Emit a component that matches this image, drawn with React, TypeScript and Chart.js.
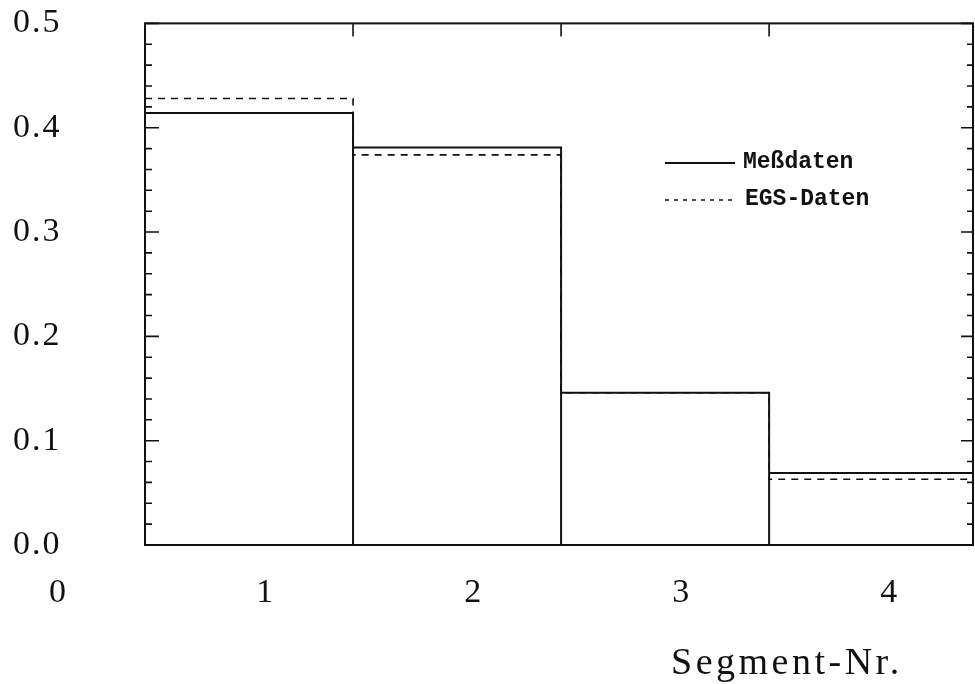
import React, { useEffect, useRef } from 'react';
import { Chart, registerables } from 'chart.js';

Chart.register(...registerables);

// ---- data ----
const segments = [1, 2, 3, 4];
const binEdges = [0.42, 1.42, 2.42, 3.42, 4.42];
const messdaten = [0.414, 0.381, 0.146, 0.069];
const egsDaten = [0.428, 0.374, 0.146, 0.063];
const xTickLabels = ['0', '1', '2', '3', '4'];
const yTickValues = [0, 0.1, 0.2, 0.3, 0.4, 0.5];
const legendLabels = ['Meßdaten', 'EGS-Daten'];
const xTitle = 'Segment-Nr.';

const X_MIN = 0.42;
const X_MAX = 4.4;
const Y_MIN = 0;
const Y_MAX = 0.5;

const INK = '#111111';
const SERIF = '"Liberation Serif", "Times New Roman", serif';
const MONO = '"Liberation Mono", "Courier New", monospace';
const TICK_SIZE = 34;

function boxOutline(values: number[]) {
  const pts: { x: number; y: number }[] = [];
  values.forEach((v, i) => {
    pts.push({ x: binEdges[i], y: v });
    pts.push({ x: binEdges[i + 1], y: v });
    if (i < values.length - 1) pts.push({ x: binEdges[i + 1], y: 0 });
  });
  return pts;
}

function stepOutline(values: number[]) {
  const pts: { x: number; y: number }[] = [];
  values.forEach((v, i) => {
    pts.push({ x: binEdges[i], y: v });
    pts.push({ x: binEdges[i + 1], y: v });
  });
  return pts;
}

const framePlugin = {
  id: 'frameAndText',
  beforeDraw(chart: any) {
    chart.ctx.letterSpacing = '2px';
  },
  afterDraw(chart: any) {
    const { ctx, chartArea: a, scales } = chart;
    const x = scales.x;
    const y = scales.y;
    ctx.save();
    ctx.letterSpacing = '0px';
    ctx.strokeStyle = INK;
    ctx.lineWidth = 2;
    ctx.strokeRect(a.left, a.top, a.right - a.left, a.bottom - a.top);

    // inward ticks on left and right
    ctx.lineWidth = 1.6;
    ctx.beginPath();
    for (let k = 0; k <= 25; k++) {
      const v = k / 50;
      const py = y.getPixelForValue(v);
      const major = k % 5 === 0;
      const lenL = major ? 14 : 7;
      const lenR = major ? 12 : 6;
      ctx.moveTo(a.left, py);
      ctx.lineTo(a.left + lenL, py);
      ctx.moveTo(a.right, py);
      ctx.lineTo(a.right - lenR, py);
    }
    // top ticks at bin edges
    for (let i = 1; i < binEdges.length - 1; i++) {
      const px = x.getPixelForValue(binEdges[i]);
      ctx.moveTo(px, a.top);
      ctx.lineTo(px, a.top + 13);
    }
    ctx.stroke();

    // "0" label of the x axis (outside the frame)
    ctx.fillStyle = INK;
    ctx.font = `${TICK_SIZE}px ${SERIF}`;
    ctx.textAlign = 'center';
    ctx.textBaseline = 'middle';
    ctx.fillText(xTickLabels[0], x.getPixelForValue(0), a.bottom + 48);

    // axis title
    ctx.letterSpacing = '3.5px';
    ctx.font = `38px ${SERIF}`;
    ctx.textAlign = 'left';
    ctx.fillText(xTitle, 671, 664);
    ctx.letterSpacing = '0px';

    // legend
    const ds = chart.data.datasets;
    ctx.font = `bold 23px ${MONO}`;
    ctx.textAlign = 'left';
    ctx.lineWidth = ds[0].borderWidth;
    ctx.strokeStyle = ds[0].borderColor;
    ctx.setLineDash([]);
    ctx.beginPath();
    ctx.moveTo(665, 163);
    ctx.lineTo(735, 163);
    ctx.stroke();
    ctx.fillText(legendLabels[0], 743, 162);

    ctx.strokeStyle = ds[1].borderColor;
    ctx.lineWidth = 1.4;
    ctx.setLineDash([4, 5]);
    ctx.beginPath();
    ctx.moveTo(665, 200);
    ctx.lineTo(735, 200);
    ctx.stroke();
    ctx.setLineDash([]);
    ctx.fillText(legendLabels[1], 745, 199);

    ctx.restore();
    ctx.letterSpacing = '0px';
  },
};

export default function App() {
  const canvasRef = useRef<HTMLCanvasElement | null>(null);

  useEffect(() => {
    const canvas = canvasRef.current;
    if (!canvas) return;
    const chart = new Chart(canvas, {
      type: 'line',
      data: {
        datasets: [
          {
            label: legendLabels[0],
            data: boxOutline(messdaten),
            borderColor: INK,
            borderWidth: 2,
            pointRadius: 0,
            tension: 0,
            fill: false,
            borderJoinStyle: 'miter',
          },
          {
            label: legendLabels[1],
            data: stepOutline(egsDaten),
            borderColor: INK,
            borderWidth: 1.6,
            borderDash: [7, 6],
            pointRadius: 0,
            tension: 0,
            fill: false,
          },
        ],
      },
      options: {
        responsive: false,
        animation: false,
        events: [],
        layout: { padding: { left: 13, top: 19, right: 2, bottom: 0 } },
        plugins: {
          legend: { display: false },
          tooltip: { enabled: false },
          title: { display: false },
        },
        scales: {
          x: {
            type: 'linear',
            position: 'bottom',
            min: X_MIN,
            max: X_MAX,
            grid: { display: false, drawTicks: false },
            border: { display: false },
            afterBuildTicks: (scale: any) => {
              scale.ticks = segments.map((v) => ({ value: v }));
            },
            afterFit: (scale: any) => {
              scale.height = 139;
            },
            ticks: {
              padding: 28,
              color: INK,
              font: { family: SERIF, size: TICK_SIZE },
              maxRotation: 0,
              autoSkip: false,
              callback: (v: any) => xTickLabels[segments.indexOf(Number(v)) + 1] ?? String(v),
            },
          },
          y: {
            type: 'linear',
            position: 'left',
            min: Y_MIN,
            max: Y_MAX,
            grid: { display: false, drawTicks: false },
            border: { display: false },
            afterBuildTicks: (scale: any) => {
              scale.ticks = yTickValues.map((v) => ({ value: v }));
            },
            afterFit: (scale: any) => {
              scale.width = 132;
            },
            ticks: {
              crossAlign: 'far',
              color: INK,
              font: { family: SERIF, size: TICK_SIZE },
              callback: (v: any) => Number(v).toFixed(1),
            },
          },
        },
      },
      plugins: [framePlugin],
    } as any);
    return () => chart.destroy();
  }, []);

  return (
    <canvas
      ref={canvasRef}
      width={975}
      height={684}
      style={{ position: 'absolute', left: 0, top: 0, display: 'block', background: '#ffffff' }}
    />
  );
}
